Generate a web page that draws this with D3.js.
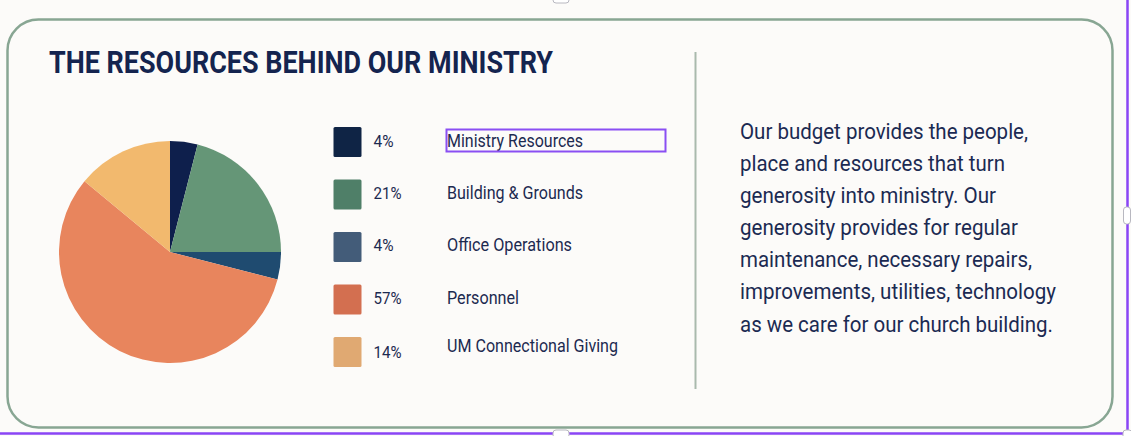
<!DOCTYPE html>
<html>
<head>
<meta charset="utf-8">
<script src="https://cdn.jsdelivr.net/npm/d3@7"></script>
<style>
  html, body { margin: 0; padding: 0; background: #fcfbf9; }
  svg { display: block; }
  text { font-family: Roboto, "Noto Sans", sans-serif; }
</style>
</head>
<body>
<div id="chart"></div>
<script>
// ---- data ----
const title = "THE RESOURCES BEHIND OUR MINISTRY";
const categories = ["Ministry Resources", "Building & Grounds", "Office Operations", "Personnel", "UM Connectional Giving"];
const values = [4, 21, 4, 57, 14];
const percentLabels = ["4%", "21%", "4%", "57%", "14%"];
const pieColors = ["#0e1f4c", "#659677", "#1f4b70", "#e8855d", "#f2b96e"];
const swatchColors = ["#0f2445", "#4f7f68", "#435c79", "#d36f50", "#e0a972"];
const paragraphLines = [
  "Our budget provides the people,",
  "place and resources that turn",
  "generosity into ministry. Our",
  "generosity provides for regular",
  "maintenance, necessary repairs,",
  "improvements, utilities, technology",
  "as we care for our church building."
];

// ---- layout ----
const W = 1131, H = 436;
const svg = d3.select("#chart").append("svg").attr("width", W).attr("height", H);

svg.append("rect").attr("width", W).attr("height", H).attr("fill", "#fcfbf9");

// card border
svg.append("rect")
  .attr("x", 7.5).attr("y", 19.5).attr("width", 1105).attr("height", 408)
  .attr("rx", 31).attr("ry", 31)
  .attr("fill", "#fcfbf9").attr("stroke", "#88a693").attr("stroke-width", 2.5);

// title
svg.append("text")
  .attr("x", 49).attr("y", 73)
  .attr("font-size", 31).attr("font-weight", 700)
  .attr("fill", "#14244f")
  .attr("textLength", 504).attr("lengthAdjust", "spacingAndGlyphs")
  .text(title);

// pie
const cx = 170, cy = 252, r = 111;
const pie = d3.pie().sort(null).value(d => d)(values);
const arc = d3.arc().innerRadius(0).outerRadius(r);
svg.append("g").attr("transform", `translate(${cx},${cy})`)
  .selectAll("path").data(pie).join("path")
  .attr("d", arc)
  .attr("fill", (d, i) => pieColors[i]);

// legend
const rowY = d3.scalePoint().domain(categories).range([127, 337]);
const labelWidths = [136, 136, 125, 72, 171];
const pctWidths = [20, 28, 20, 28, 28];
const labelDy = [19.5, 19.5, 18.5, 19, 14.5];
const pctDy = [19.5, 19.5, 18.5, 19, 21];
const legend = svg.append("g");
categories.forEach((c, i) => {
  const y = rowY(c);
  legend.append("rect")
    .attr("x", 333.5).attr("y", y).attr("width", 28).attr("height", 30)
    .attr("rx", 1.5).attr("fill", swatchColors[i]);
  legend.append("text")
    .attr("x", 373.5).attr("y", y + pctDy[i])
    .attr("font-size", 16.5).attr("fill", "#1c2a50")
    .attr("textLength", pctWidths[i]).attr("lengthAdjust", "spacingAndGlyphs")
    .text(percentLabels[i]);
  legend.append("text")
    .attr("x", 447).attr("y", y + labelDy[i])
    .attr("font-size", 17.5).attr("fill", "#1c2a50")
    .attr("textLength", labelWidths[i]).attr("lengthAdjust", "spacingAndGlyphs")
    .text(c);
});

// selection box round first label
svg.append("rect")
  .attr("x", 446.5).attr("y", 129.5).attr("width", 219).attr("height", 22)
  .attr("fill", "none").attr("stroke", "#8a4ff3").attr("stroke-width", 2);

// divider
svg.append("line")
  .attr("x1", 695.5).attr("x2", 695.5).attr("y1", 52).attr("y2", 389)
  .attr("stroke", "#a9baad").attr("stroke-width", 2);

// paragraph
const lineY = d3.scaleLinear().domain([0, paragraphLines.length - 1]).range([138.5, 331.5]);
const lineWidths = [288, 265, 256, 278, 292, 316, 313];
svg.append("g").selectAll("text").data(paragraphLines).join("text")
  .attr("x", 740).attr("y", (d, i) => lineY(i))
  .attr("font-size", 21.5).attr("fill", "#1b2a52")
  .attr("textLength", (d, i) => lineWidths[i]).attr("lengthAdjust", "spacingAndGlyphs")
  .text(d => d);

// editor selection frame
svg.append("line").attr("x1", 1127.5).attr("x2", 1127.5).attr("y1", 0).attr("y2", 434)
  .attr("stroke", "#8a45f5").attr("stroke-width", 2.5);
svg.append("line").attr("x1", 0).attr("x2", 1128).attr("y1", 433.5).attr("y2", 433.5)
  .attr("stroke", "#8a45f5").attr("stroke-width", 2.5);
const handles = [
  {x: 553, y: -4, w: 16, h: 7},
  {x: 1123.5, y: 207, w: 7, h: 17},
  {x: 553, y: 430, w: 16, h: 8},
  {x: 1123, y: 430, w: 9, h: 9}
];
svg.append("g").selectAll("rect").data(handles).join("rect")
  .attr("x", d => d.x).attr("y", d => d.y).attr("width", d => d.w).attr("height", d => d.h)
  .attr("rx", 3).attr("fill", "#ffffff").attr("stroke", "#b8b8c0").attr("stroke-width", 1);
</script>
</body>
</html>
